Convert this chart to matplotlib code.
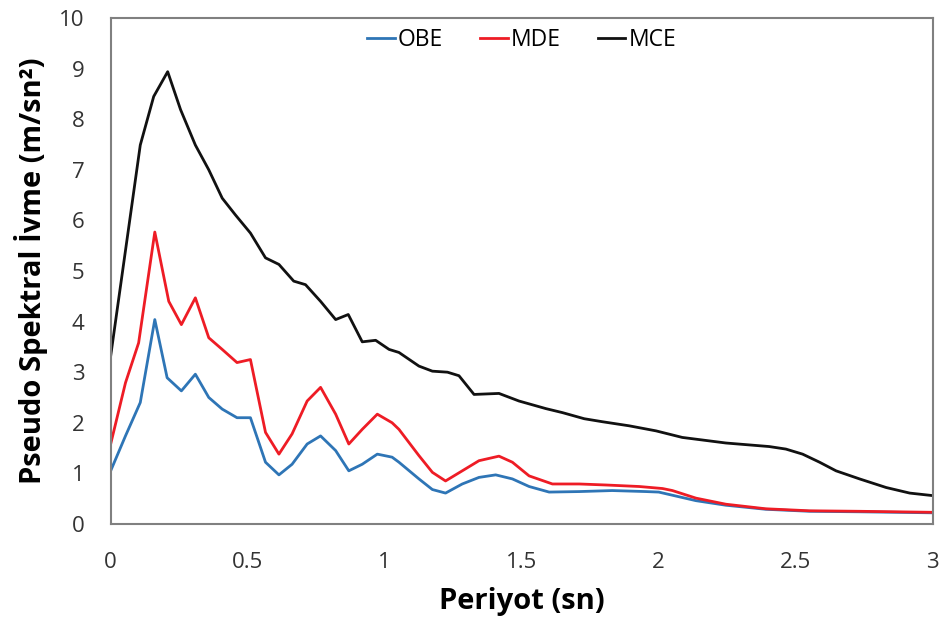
import matplotlib
matplotlib.use("Agg")
import matplotlib.pyplot as plt

plt.rcParams['font.family'] = ['Open Sans', 'DejaVu Sans']

# period (sn) and pseudo spectral acceleration (m/sn2)
mce_t = [0.0, 0.108, 0.157, 0.208, 0.255, 0.309, 0.358, 0.407, 0.455, 0.51, 0.565, 0.614,
         0.668, 0.711, 0.766, 0.821, 0.867, 0.918, 0.967, 1.016, 1.052, 1.125, 1.174, 1.229,
         1.271, 1.326, 1.417, 1.49, 1.588, 1.649, 1.728, 1.795, 1.892, 1.99, 2.086, 2.245,
         2.403, 2.464, 2.525, 2.587, 2.647, 2.733, 2.83, 2.916, 3.0]
mce = [3.32, 7.49, 8.45, 8.94, 8.19, 7.49, 7.0, 6.44, 6.11, 5.75, 5.26, 5.13,
       4.80, 4.73, 4.40, 4.04, 4.14, 3.60, 3.63, 3.45, 3.39, 3.12, 3.02, 3.0,
       2.93, 2.56, 2.58, 2.43, 2.28, 2.20, 2.08, 2.02, 1.94, 1.84, 1.71, 1.60,
       1.53, 1.48, 1.38, 1.22, 1.05, 0.89, 0.72, 0.61, 0.56]

mde_t = [0.0, 0.054, 0.102, 0.161, 0.212, 0.258, 0.309, 0.358, 0.407, 0.461, 0.51, 0.565,
         0.614, 0.662, 0.717, 0.766, 0.821, 0.869, 0.918, 0.973, 1.027, 1.052, 1.125, 1.174,
         1.222, 1.283, 1.344, 1.417, 1.466, 1.527, 1.612, 1.71, 1.807, 1.929, 2.014, 2.05,
         2.136, 2.245, 2.39, 2.55, 2.733, 3.0]
mde = [1.58, 2.79, 3.58, 5.77, 4.40, 3.94, 4.47, 3.68, 3.45, 3.19, 3.25, 1.81,
       1.38, 1.78, 2.43, 2.70, 2.17, 1.58, 1.87, 2.17, 2.0, 1.87, 1.35, 1.02,
       0.85, 1.05, 1.25, 1.34, 1.22, 0.95, 0.79, 0.79, 0.77, 0.74, 0.70, 0.66,
       0.51, 0.39, 0.30, 0.26, 0.25, 0.23]

obe_t = [0.0, 0.054, 0.108, 0.161, 0.206, 0.258, 0.309, 0.358, 0.407, 0.461, 0.51, 0.565,
         0.614, 0.662, 0.717, 0.766, 0.821, 0.869, 0.918, 0.973, 1.027, 1.052, 1.125, 1.174,
         1.222, 1.283, 1.344, 1.405, 1.466, 1.527, 1.6, 1.71, 1.83, 1.953, 2.0, 2.136,
         2.245, 2.39, 2.55, 2.733, 3.0]
obe = [1.05, 1.74, 2.40, 4.04, 2.89, 2.63, 2.96, 2.50, 2.27, 2.10, 2.10, 1.22,
       0.97, 1.18, 1.58, 1.74, 1.45, 1.05, 1.18, 1.38, 1.32, 1.22, 0.89, 0.68,
       0.61, 0.79, 0.92, 0.97, 0.89, 0.74, 0.63, 0.64, 0.66, 0.64, 0.63, 0.46,
       0.37, 0.29, 0.25, 0.24, 0.22]

fig = plt.figure(figsize=(9.46, 6.23), dpi=100)
ax = fig.add_axes([0.117, 0.159, 0.869, 0.812])

ax.plot(obe_t, obe, color="#2e75b6", lw=2, label="OBE")
ax.plot(mde_t, mde, color="#ee1c25", lw=2, label="MDE")
ax.plot(mce_t, mce, color="#111111", lw=2, label="MCE")

ax.set_xlim(0, 3)
ax.set_ylim(0, 10)
ax.set_xticks([0, 0.5, 1, 1.5, 2, 2.5, 3])
ax.set_xticklabels(["0", "0.5", "1", "1.5", "2", "2.5", "3"])
ax.set_yticks(range(0, 11))
ax.tick_params(length=0, labelsize=16, colors="#333333")
ax.tick_params(axis="x", pad=20)
ax.tick_params(axis="y", pad=19)
for s in ax.spines.values():
    s.set_color("#808080")
    s.set_linewidth(1.5)

ax.set_xlabel("Periyot (sn)", fontsize=21, fontweight="bold", labelpad=10)
ax.set_ylabel("Pseudo Spektral İvme (m/sn²)", fontsize=21, fontweight="bold", labelpad=8)

ax.legend(loc="upper center", ncol=3, frameon=False, fontsize=16.5,
          handlelength=1.2, handletextpad=0.15, columnspacing=1.6,
          borderaxespad=0.05)

fig.savefig("out.png", dpi=100)
